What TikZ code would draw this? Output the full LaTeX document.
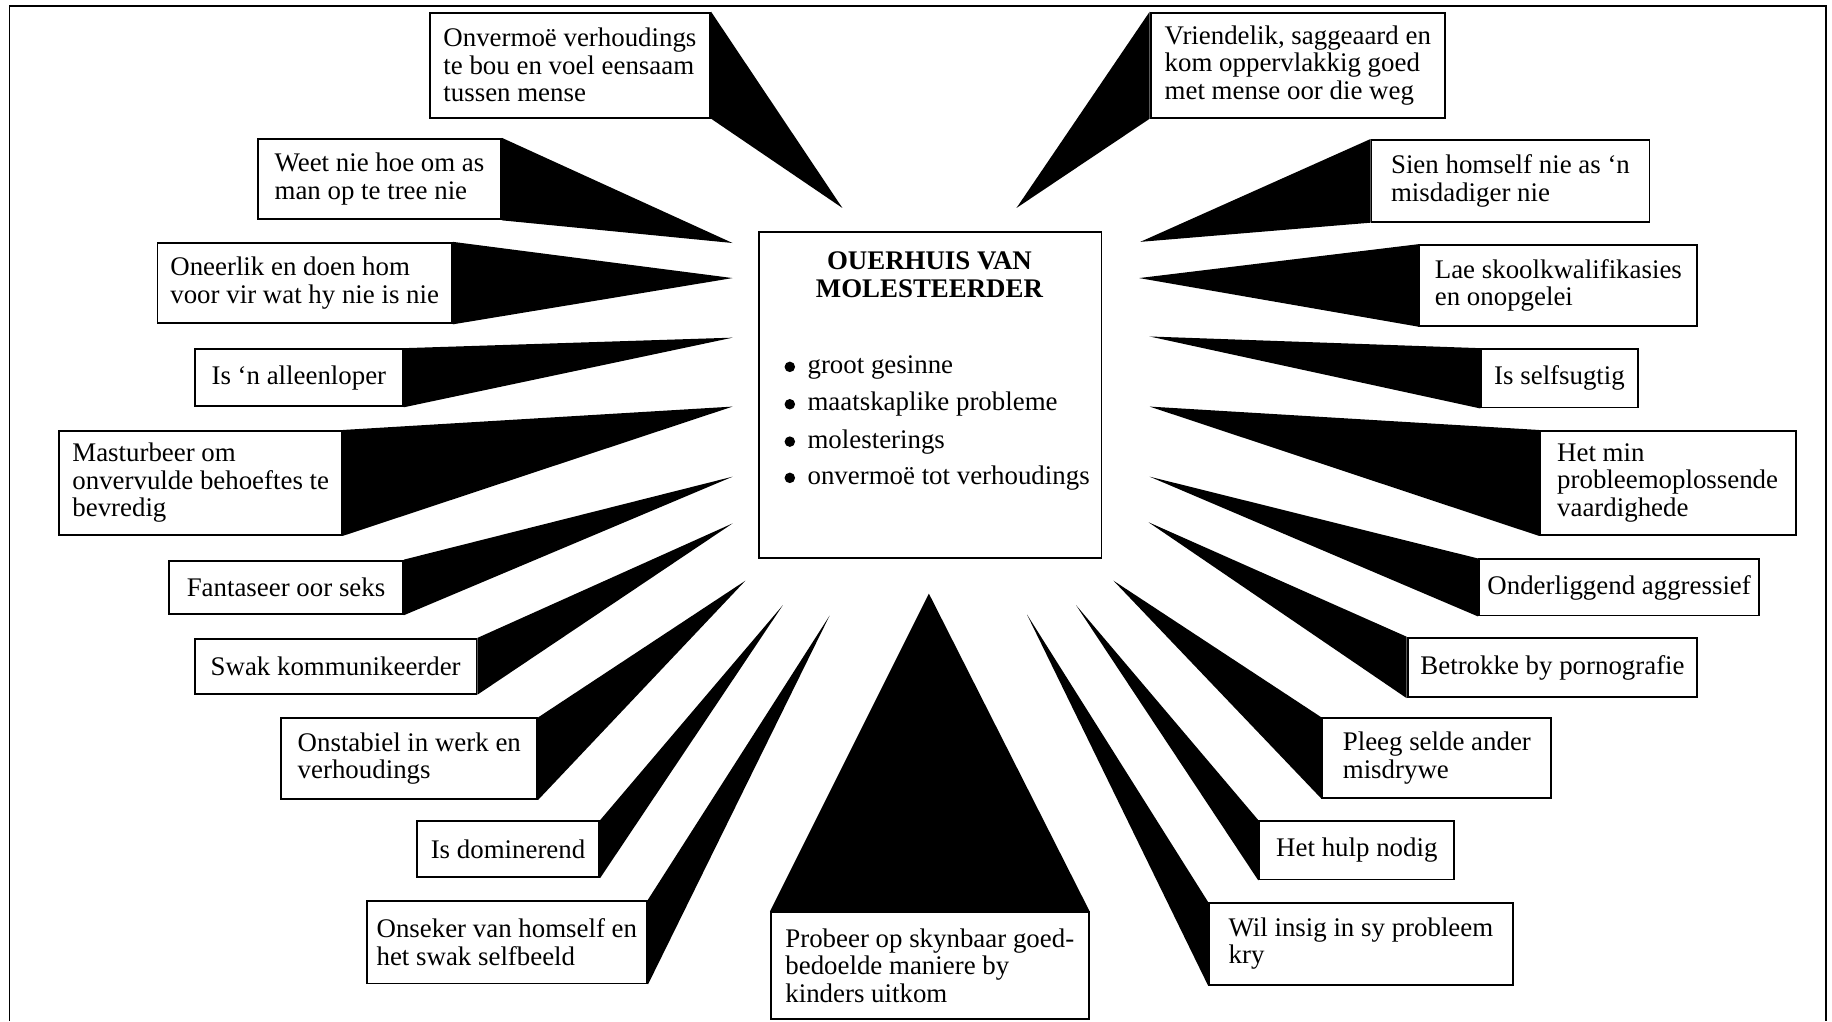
\documentclass[tikz,border=0pt]{standalone}
\usepackage{fontspec}
\setmainfont{Liberation Serif}
\usepackage{tikz}
\usetikzlibrary{backgrounds}
\tikzset{
    eienskap/.style = {draw, line width=1.6pt, fill=white, anchor=north west, align=left, inner xsep=4pt, font=\fontsize{23}{23.5}\selectfont},
    kop/.style = {align=center, font=\fontsize{23}{24}\selectfont\bfseries},
    punt/.style = {anchor=west, inner sep=0pt, text height=16pt, text depth=5pt, font=\fontsize{23}{23.5}\selectfont},
    wig/.style = {fill=black}
}

\begin{document}
\begin{tikzpicture}[x=1pt, y=-1pt]
                \useasboundingbox (0,0) rectangle (1568,874);

                %% raam
                \draw[line width=1.2pt] (8,874) -- (8,5) -- (1563,5) -- (1563,874);

                %% middel
                \node[eienskap, minimum width=293pt, minimum height=279pt] (ouerhuis) at (649,198) {};
                \node[kop] (titel) at (795.5,235) {OUERHUIS VAN\\MOLESTEERDER};
                \foreach \y in {314,346,378,409}
                    \fill (676,\y) circle (4.5pt);
                \node[punt] (gesinne) at (691,314) {groot gesinne};
                \node[punt] (probleme) at (691,346) {maatskaplike probleme};
                \node[punt] (molesterings) at (691,378) {molesterings};
                \node[punt] (onvermoetot) at (691,409) {onvermoë tot verhoudings};

                %% links
                \node[eienskap, minimum width=240pt, minimum height=90pt] (onvermoe) at (367,10) {Onvermoë verhoudings\\te bou en voel eensaam\\tussen mense};
                \node[eienskap, minimum width=208pt, minimum height=69pt] (weet) at (220,118) {Weet nie hoe om as\\man op te tree nie};
                \node[eienskap, minimum width=252pt, minimum height=69pt] (oneerlik) at (134,207) {Oneerlik en doen hom\\voor vir wat hy nie is nie};
                \node[eienskap, minimum width=178pt, minimum height=49pt] (alleen) at (166,298) {Is ‘n alleenloper};
                \node[eienskap, minimum width=242pt, minimum height=89pt] (masturbeer) at (50,368) {Masturbeer om\\onvervulde behoeftes te\\bevredig};
                \node[eienskap, minimum width=200pt, minimum height=46pt] (fantaseer) at (144,479) {Fantaseer oor seks};
                \node[eienskap, minimum width=241pt, minimum height=47pt] (swak) at (166,546) {Swak kommunikeerder};
                \node[eienskap, minimum width=219pt, minimum height=69pt] (onstabiel) at (240,614) {Onstabiel in werk en\\verhoudings};
                \node[eienskap, minimum width=156pt, minimum height=48pt] (dominerend) at (356,702) {Is dominerend};
                \node[eienskap, minimum width=240pt, minimum height=71pt] (onseker) at (313,770) {Onseker van homself en\\het swak selfbeeld};

                %% regs
                \node[eienskap, minimum width=252pt, minimum height=90pt] (vriendelik) at (984,10) {Vriendelik, saggeaard en\\kom oppervlakkig goed\\met mense oor die weg};
                \node[eienskap, minimum width=238pt, minimum height=70pt] (sien) at (1173,119) {Sien homself nie as ‘n\\misdadiger nie};
                \node[eienskap, minimum width=238pt, minimum height=69pt] (lae) at (1214,209) {Lae skoolkwalifikasies\\en onopgelei};
                \node[eienskap, minimum width=134pt, minimum height=50pt] (selfsugtig) at (1267,298) {Is selfsugtig};
                \node[eienskap, minimum width=219pt, minimum height=89pt] (hetmin) at (1317,368) {Het min\\probleemoplossende\\vaardighede};
                \node[eienskap, minimum width=240pt, minimum height=48pt] (onderliggend) at (1265,478) {Onderliggend aggressief};
                \node[eienskap, minimum width=248pt, minimum height=51pt] (betrokke) at (1204,545) {Betrokke by pornografie};
                \node[eienskap, minimum width=196pt, minimum height=68pt] (pleeg) at (1131,614) {Pleeg selde ander\\misdrywe};
                \node[eienskap, minimum width=167pt, minimum height=50pt] (hulp) at (1077,702) {Het hulp nodig};
                \node[eienskap, minimum width=260pt, minimum height=70pt] (insig) at (1034,772) {Wil insig in sy probleem\\kry};

                %% onder
                \node[eienskap, minimum width=272pt, minimum height=91pt] (probeer) at (659,780) {Probeer op skynbaar goed-\\bedoelde maniere by\\kinders uitkom};

                %% punte van die wiggies
                \coordinate (onvermoe-p) at (721,178);
                \coordinate (weet-p) at (627,208);
                \coordinate (oneerlik-p) at (627,238);
                \coordinate (alleen-p) at (627,289);
                \coordinate (masturbeer-p) at (627,348);
                \coordinate (fantaseer-p) at (627,408);
                \coordinate (swak-p) at (627,448);
                \coordinate (onstabiel-p) at (638,497);
                \coordinate (dominerend-p) at (670,518);
                \coordinate (onseker-p) at (710,527);
                \coordinate (vriendelik-p) at (870,178);
                \coordinate (sien-p) at (976,207);
                \coordinate (lae-p) at (975,238);
                \coordinate (selfsugtig-p) at (984,288);
                \coordinate (hetmin-p) at (984,348);
                \coordinate (onderliggend-p) at (984,408);
                \coordinate (betrokke-p) at (983,447);
                \coordinate (pleeg-p) at (953,497);
                \coordinate (hulp-p) at (921,518);
                \coordinate (insig-p) at (879,526);
                \coordinate (probeer-p) at (795,508);

                %% wiggies
                \begin{scope}[on background layer]
                    \foreach \n in {onvermoe,weet,oneerlik,alleen,masturbeer,fantaseer,swak,onstabiel,dominerend,onseker}
                        \fill[wig] (\n.north east) -- (\n-p) -- (\n.south east) -- cycle;
                    \foreach \n in {vriendelik,sien,lae,selfsugtig,hetmin,onderliggend,betrokke,pleeg,hulp,insig}
                        \fill[wig] (\n.north west) -- (\n-p) -- (\n.south west) -- cycle;
                    \fill[wig] (probeer.north west) -- (probeer-p) -- (probeer.north east) -- cycle;
                \end{scope}

            \end{tikzpicture}
\end{document}
